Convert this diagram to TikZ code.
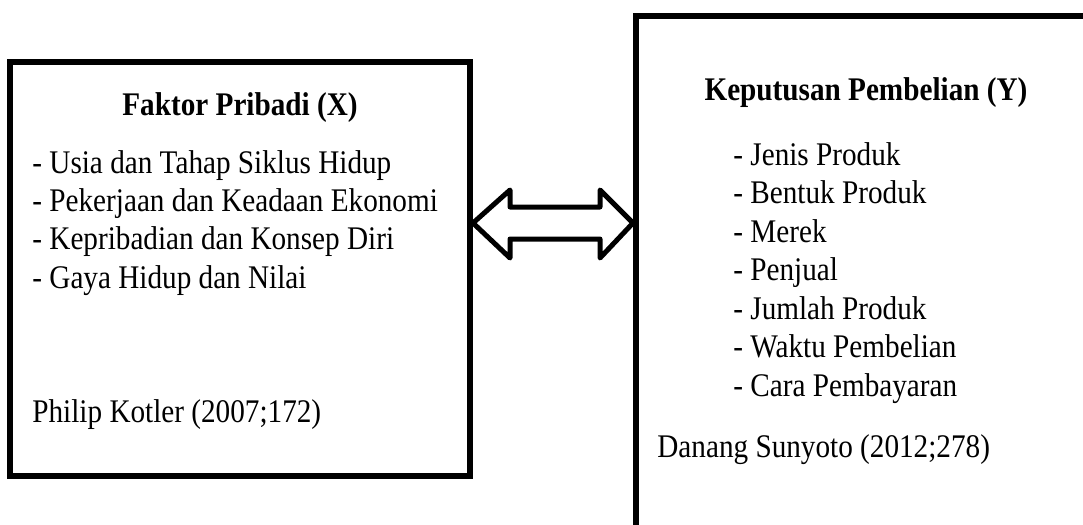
\documentclass[tikz,border=0pt]{standalone}
\usepackage{fontspec}
\setmainfont[FakeStretch=0.885]{Liberation Serif}
\usetikzlibrary{calc}

\begin{document}
\begin{tikzpicture}
  [x=0.5pt, y=-0.5pt,
   every node/.style={font=\fontsize{16.5}{19}\selectfont},
   bigbox/.style={rectangle,
                  draw=black,
                  line width=3pt},
   txt/.style={inner sep=0pt, anchor=base west},
   judul/.style={inner sep=0pt, anchor=base,
                 font=\fontsize{16.5}{19}\selectfont\bfseries},
   dblarrow/.style={draw=black, line width=2.5pt, line join=round},]
  \useasboundingbox (0,0) rectangle (1083,525);
  % kotak variabel
  \node[bigbox, minimum width=230pt, minimum height=207pt]   (faktor)    at (240,269)   {};
  \node[bigbox, minimum width=232pt, minimum height=264.5pt] (keputusan) at (868,280.5) {};
  % isi kotak X
  \node[judul] (judulx) at (240,115) {Faktor Pribadi (X)};
  \foreach \isi [count=\i] in {Usia dan Tahap Siklus Hidup,
                               Pekerjaan dan Keadaan Ekonomi,
                               Kepribadian dan Konsep Diri,
                               Gaya Hidup dan Nilai}
    \node[txt] (x\i) at (32,134.6+38.4*\i) {- \isi};
  \node[txt] (sumberx) at (32,422) {Philip Kotler (2007;172)};
  % isi kotak Y
  \node[judul] (juduly) at (866,100) {Keputusan Pembelian (Y)};
  \foreach \isi [count=\i] in {Jenis Produk, Bentuk Produk, Merek, Penjual,
                               Jumlah Produk, Waktu Pembelian, Cara Pembayaran}
    \node[txt] (y\i) at (733,126.5+38.5*\i) {- \isi};
  \node[txt] (sumbery) at (657,457) {Danang Sunyoto (2012;278)};
  % panah dua arah
  \coordinate (la) at (faktor.east |- 0,223);
  \coordinate (ra) at (keputusan.west |- 0,223);
  \draw[dblarrow] (la) -- ++(37,-33) -- ++(0,17) -- ($(ra)+(-33,-16)$) -- ++(0,-17)
                  -- (ra) -- ++(-33,35) -- ++(0,-19) -- ($(la)+(37,16)$) -- ++(0,19)
                  -- cycle;
\end{tikzpicture}
\end{document}
